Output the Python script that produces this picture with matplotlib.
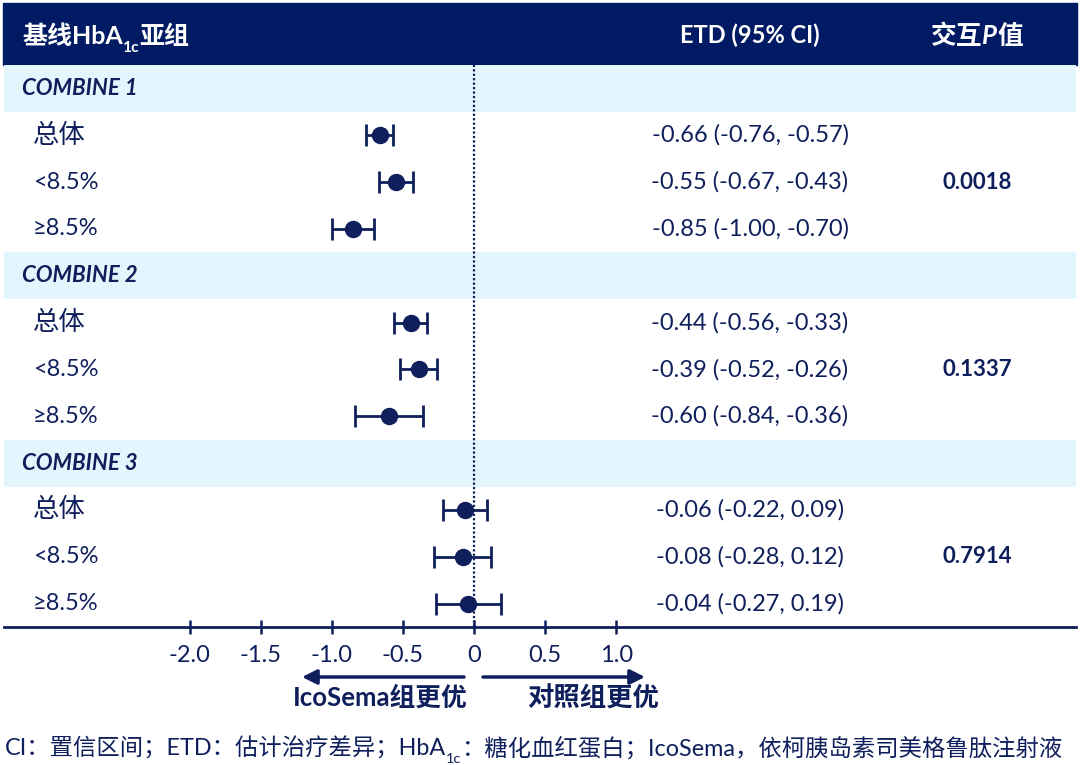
"""
Forest plot: ETD of HbA1c by baseline HbA1c subgroup, COMBINE 1-3
"""
import matplotlib
matplotlib.use('Agg')
import matplotlib.pyplot as plt
from matplotlib.patches import Rectangle
from matplotlib.transforms import blended_transform_factory

plt.rcParams['font.family'] = ['Lato', 'Noto Sans CJK SC', 'DejaVu Sans']

NAVY = '#001B63'
INK = '#0F1F5C'
BAND = '#E4F6FD'

# data
trials = ['COMBINE 1', 'COMBINE 2', 'COMBINE 3']
subgroups = ['总体', '<8.5%', '≥8.5%']
etd = [[-0.66, -0.55, -0.85],
       [-0.44, -0.39, -0.60],
       [-0.06, -0.08, -0.04]]
ci_low = [[-0.76, -0.67, -1.00],
          [-0.56, -0.52, -0.84],
          [-0.22, -0.28, -0.27]]
ci_high = [[-0.57, -0.43, -0.70],
           [-0.33, -0.26, -0.36],
           [0.09, 0.12, 0.19]]
p_interaction = ['0.0018', '0.1337', '0.7914']
xticks = [-2.0, -1.5, -1.0, -0.5, 0, 0.5, 1.0]
xtick_labels = ['-2.0', '-1.5', '-1.0', '-0.5', '0', '0.5', '1.0']

W, H = 1080, 765
fig = plt.figure(figsize=(W / 100, H / 100), dpi=100)
fig.patch.set_facecolor('white')

# background axes in pixel coords (y down)
bg = fig.add_axes([0, 0, 1, 1], zorder=0)
bg.set_xlim(0, W)
bg.set_ylim(H, 0)
bg.axis('off')

renderer = fig.canvas.get_renderer()


def rich(ax, x, y, parts, ha='left', size=15, color=INK, weight='normal'):
    """Chain text pieces; a piece flagged 'sub' is drawn smaller and lower."""
    items = []
    for s, st in parts:
        fs = size * 0.62 if st.get('sub') else size
        t = ax.text(0, 0, s, fontsize=fs, va='baseline', color=color,
                    fontweight=st.get('weight', weight),
                    fontstyle=st.get('style', 'normal'))
        w = t.get_window_extent(renderer).width
        items.append((t, w, st))
    total = sum(w for _, w, _ in items)
    x0 = x - total / 2 if ha == 'center' else x
    for t, w, st in items:
        dy = size * 0.32 * 100 / 72 if st.get('sub') else 0
        t.set_position((x0, y + dy))
        x0 += w


# header band
bg.add_patch(Rectangle((3, 3), W - 6, 62, color=NAVY, zorder=1))
rich(bg, 22, 44, [('基线HbA', {}), ('1c', {'sub': True}), ('亚组', {})],
     size=18, color='white', weight='bold')
rich(bg, 750, 43, [('ETD (95% CI)', {})], ha='center', size=17,
     color='white', weight='bold')
rich(bg, 977, 44, [('交互', {}), ('P', {'style': 'italic'}), ('值', {})],
     ha='center', size=18.5, color='white', weight='bold')

# forest axes: spine at y=627 px, top at 65 px
ax_left, ax_right = 4, 1076
ax = fig.add_axes([ax_left / W, (H - 627) / H, (ax_right - ax_left) / W, (627 - 65) / H],
                  zorder=1)
ax.set_facecolor('none')
unit, zero = 142.2, 474
ax.set_xlim(-(zero - ax_left) / unit, (ax_right - zero) / unit)
ax.set_ylim(11.5, -0.5)

tr = blended_transform_factory(fig.transFigure, ax.transData)

row = 0
for t, trial in enumerate(trials):
    ax.axhspan(row - 0.5, row + 0.5, color=BAND, zorder=0, lw=0)
    ax.text(22 / W, row, trial, transform=tr, va='center', ha='left',
            fontsize=16, fontweight='bold', fontstyle='italic', color=INK)
    row += 1
    for s, sg in enumerate(subgroups):
        e, lo, hi = etd[t][s], ci_low[t][s], ci_high[t][s]
        ax.errorbar(e, row, xerr=[[e - lo], [hi - e]], fmt='o', color=INK,
                    markersize=11.5, elinewidth=2, capsize=8, capthick=2, zorder=3)
        ax.text(33 / W, row, sg, transform=tr, va='center', ha='left',
                fontsize=19 if s == 0 else 17, color=INK)
        ax.text(750 / W, row, f'{e:.2f} ({lo:.2f}, {hi:.2f})', transform=tr,
                va='center', ha='center', fontsize=17, color=INK)
        if s == 1:
            ax.text(977 / W, row, p_interaction[t], transform=tr, va='center',
                    ha='center', fontsize=16, fontweight='bold', color=INK)
        row += 1

ax.axvline(0, color=INK, lw=1.6, ls=(0, (1, 1)), zorder=2)

for side in ['top', 'left', 'right']:
    ax.spines[side].set_visible(False)
ax.spines['bottom'].set_color(INK)
ax.spines['bottom'].set_linewidth(2)
ax.set_yticks([])
ax.set_xticks(xticks, xtick_labels)
ax.tick_params(axis='x', direction='inout', length=10, width=1.8, colors=INK,
               labelsize=17, pad=8)

# direction arrows
arrow_kw = dict(arrowstyle='-|>', color=INK, lw=2.5, mutation_scale=22,
                shrinkA=0, shrinkB=0)
bg.annotate('', xy=(302, 677), xytext=(464, 677), arrowprops=arrow_kw)
bg.annotate('', xy=(645, 677), xytext=(483, 677), arrowprops=arrow_kw)
rich(bg, 380, 706, [('IcoSema组更优', {})], ha='center', size=18.5, weight='bold')
rich(bg, 593, 707, [('对照组更优', {})], ha='center', size=19, weight='bold')

# footnote
rich(bg, 5, 756, [('CI：置信区间；ETD：估计治疗差异；HbA', {}), ('1c', {'sub': True}),
                  ('：糖化血红蛋白；IcoSema，依柯胰岛素司美格鲁肽注射液', {})],
     size=16.8)

fig.savefig('out.png', dpi=100, facecolor='white')
plt.close(fig)
